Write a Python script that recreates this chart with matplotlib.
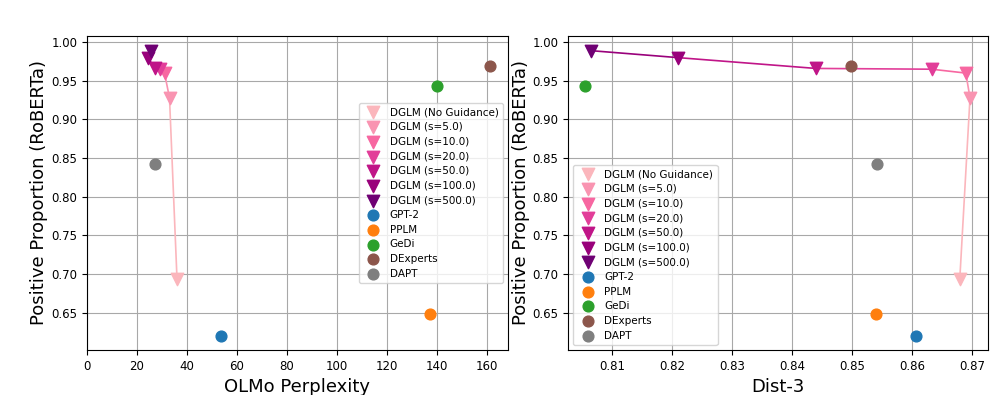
import matplotlib.pyplot as plt
import seaborn as sns

dglm_labels = ['DGLM (No Guidance)', 'DGLM (s=5.0)', 'DGLM (s=10.0)', 'DGLM (s=20.0)',
               'DGLM (s=50.0)', 'DGLM (s=100.0)', 'DGLM (s=500.0)']
dglm_ppl = [36, 33, 31, 29, 27, 24.5, 25.5]
dglm_dist = [0.868, 0.8697, 0.869, 0.8633, 0.844, 0.821, 0.8065]
dglm_pos = [0.694, 0.928, 0.960, 0.965, 0.966, 0.980, 0.989]

base_labels = ['GPT-2', 'PPLM', 'GeDi', 'DExperts', 'DAPT']
base_ppl = [53.5, 137, 140, 161, 27]
base_dist = [0.8607, 0.854, 0.8055, 0.8498, 0.8542]
base_pos = [0.620, 0.648, 0.943, 0.969, 0.843]

cols = sns.color_palette("RdPu", 9)[2:]
base_cols = ['tab:blue', 'tab:orange', 'tab:green', 'tab:brown', 'tab:gray']

fig = plt.figure(figsize=(10, 3.95), dpi=100)
ax1 = fig.add_axes([0.087, 0.114, 0.421, 0.795])
ax2 = fig.add_axes([0.568, 0.114, 0.420, 0.795])


def draw(ax, xs, bx, xlabel, loc):
    for i in range(len(xs) - 1):
        ax.plot(xs[i:i+2], dglm_pos[i:i+2], color=cols[i], lw=1.2, zorder=2)
    for i in range(len(xs)):
        ax.scatter(xs[i], dglm_pos[i], marker='v', s=80, color=cols[i],
                   label=dglm_labels[i], zorder=3)
    for i in range(len(bx)):
        ax.scatter(bx[i], base_pos[i], marker='o', s=60, color=base_cols[i],
                   label=base_labels[i], zorder=3)
    ax.grid(True, color='#a8a8a8', lw=0.8)
    ax.set_axisbelow(True)
    ax.set_xlabel(xlabel, fontsize=13)
    ax.set_ylabel('Positive Proportion (RoBERTa)', fontsize=13, labelpad=2)
    ax.tick_params(labelsize=8.5)
    ax.set_ylim(0.602, 1.008)
    ax.legend(loc=loc, fontsize=7.5, handletextpad=0.6, labelspacing=0.45)


draw(ax1, dglm_ppl, base_ppl, 'OLMo Perplexity', 'center right')
ax1.set_xlim(0, 168.4)
ax1.set_xticks(range(0, 161, 20))

draw(ax2, dglm_dist, base_dist, 'Dist-3', 'lower left')
ax2.set_xlim(0.8027, 0.8727)

fig.savefig('out.png')
